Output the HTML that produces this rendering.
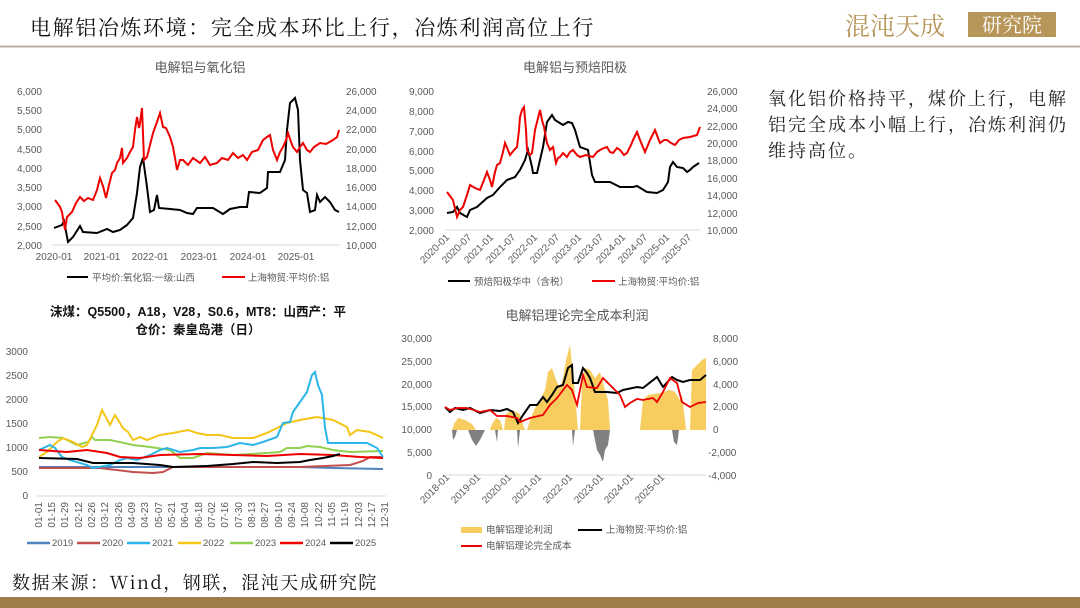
<!DOCTYPE html>
<html><head><meta charset="utf-8"><style>
body{margin:0;background:#fff;}
svg{display:block;font-family:"Liberation Sans","Noto Sans CJK SC",sans-serif;}
.t{fill:#595959;font-size:13px;}
.a{fill:#595959;font-size:10px;}
.l{fill:#595959;font-size:9.5px;}
</style></head><body>
<svg width="1080" height="608" viewBox="0 0 1080 608" xmlns="http://www.w3.org/2000/svg">
<rect width="1080" height="608" fill="#fff"/>
<!-- header -->
<text x="30" y="35" font-size="21" fill="#111" letter-spacing="1.6" font-family="'Noto Serif CJK SC','Noto Sans CJK SC',serif">电解铝冶炼环境：完全成本环比上行，冶炼利润高位上行</text>
<line x1="0" y1="46.5" x2="1080" y2="46.5" stroke="#b8b0a0" stroke-width="2"/>
<text x="845" y="35" font-size="25" fill="#b8965a" font-family="'Noto Serif CJK SC',serif">混沌天成</text>
<rect x="968" y="12" width="88" height="25" fill="#b8965a"/>
<text x="1012" y="32" font-size="20" fill="#fff" text-anchor="middle" font-family="'Noto Serif CJK SC',serif">研究院</text>

<!-- right text -->
<g font-size="18" fill="#222" font-family="'Noto Serif CJK SC','Noto Sans CJK SC',serif" letter-spacing="2">
<text x="768" y="105">氧化铝价格持平，煤价上行，电解</text>
<text x="768" y="131">铝完全成本小幅上行，冶炼利润仍</text>
<text x="768" y="157">维持高位。</text>
</g>

<!-- chart1 -->
<text class="t" x="200" y="72" text-anchor="middle">电解铝与氧化铝</text>
<g class="a" text-anchor="end">
<text x="42" y="95">6,000</text><text x="42" y="114">5,500</text><text x="42" y="133">5,000</text><text x="42" y="153">4,500</text><text x="42" y="172">4,000</text><text x="42" y="191">3,500</text><text x="42" y="210">3,000</text><text x="42" y="230">2,500</text><text x="42" y="249">2,000</text>
</g>
<g class="a">
<text x="346" y="95">26,000</text><text x="346" y="114">24,000</text><text x="346" y="133">22,000</text><text x="346" y="153">20,000</text><text x="346" y="172">18,000</text><text x="346" y="191">16,000</text><text x="346" y="210">14,000</text><text x="346" y="230">12,000</text><text x="346" y="249">10,000</text>
</g>
<line x1="52" y1="245" x2="340" y2="245" stroke="#d9d9d9"/>
<g class="a" text-anchor="middle">
<text x="54" y="260">2020-01</text><text x="102" y="260">2021-01</text><text x="150" y="260">2022-01</text><text x="199" y="260">2023-01</text><text x="248" y="260">2024-01</text><text x="296" y="260">2025-01</text>
</g>
<polyline fill="none" stroke="#000" stroke-width="2" points="54,228 62,225 64,221 68,242 73,237 80,226 83,232 97,233 107,229 113,232 120,230 127,225 133,218 137,193 140,167 143,158 147,187 150,212 154,210 157,195 159,208 170,209 180,210 187,213 193,214 197,208 213,208 223,214 230,209 240,207 247,207 249,192 260,193 267,188 268,172 280,172 285,160 287,130 290,103 295,98 298,110 300,160 303,190 307,193 310,212 315,210 317,195 320,202 325,197 330,202 335,210 339,212"/>
<polyline fill="none" stroke="#e00" stroke-width="2" points="55,200 58,204 60,207 62,212 65,230 67,217 72,212 76,203 80,197 84,201 88,198 93,200 97,190 100,178 103,186 106,198 109,185 112,173 115,170 117,163 120,158 122,148 123,163 127,158 130,152 133,147 135,130 137,117 139,128 140,123 142,108 144,160 147,157 150,145 153,133 157,122 160,113 163,127 166,128 170,137 173,147 175,158 177,170 180,160 183,160 188,165 193,158 200,163 205,157 210,165 217,163 222,158 228,160 233,153 238,158 243,155 247,160 252,152 258,150 263,140 267,137 270,135 273,150 277,160 280,152 283,147 286,140 288,133 291,142 293,147 297,152 300,147 303,143 307,150 310,152 314,147 320,143 326,144 333,140 337,137 339,130"/>
<line x1="67" y1="277" x2="88" y2="277" stroke="#000" stroke-width="2"/>
<text class="l" x="92" y="281">平均价:氧化铝:一级:山西</text>
<line x1="222" y1="277" x2="245" y2="277" stroke="#e00" stroke-width="2"/>
<text class="l" x="248" y="281">上海物贸:平均价:铝</text>

<!-- chart2 -->
<text class="t" x="575" y="72" text-anchor="middle">电解铝与预焙阳极</text>
<g class="a" text-anchor="end">
<text x="434" y="95">9,000</text><text x="434" y="115">8,000</text><text x="434" y="135">7,000</text><text x="434" y="155">6,000</text><text x="434" y="174">5,000</text><text x="434" y="194">4,000</text><text x="434" y="214">3,000</text><text x="434" y="234">2,000</text>
</g>
<g class="a">
<text x="707" y="95">26,000</text><text x="707" y="112">24,000</text><text x="707" y="130">22,000</text><text x="707" y="147">20,000</text><text x="707" y="164">18,000</text><text x="707" y="182">16,000</text><text x="707" y="199">14,000</text><text x="707" y="217">12,000</text><text x="707" y="234">10,000</text>
</g>
<line x1="445" y1="230" x2="700" y2="230" stroke="#d9d9d9"/>
<g class="a" text-anchor="end">
<text transform="translate(450,238) rotate(-45)">2020-01</text>
<text transform="translate(472,238) rotate(-45)">2020-07</text>
<text transform="translate(494,238) rotate(-45)">2021-01</text>
<text transform="translate(516,238) rotate(-45)">2021-07</text>
<text transform="translate(538,238) rotate(-45)">2022-01</text>
<text transform="translate(560,238) rotate(-45)">2022-07</text>
<text transform="translate(582,238) rotate(-45)">2023-01</text>
<text transform="translate(604,238) rotate(-45)">2023-07</text>
<text transform="translate(626,238) rotate(-45)">2024-01</text>
<text transform="translate(648,238) rotate(-45)">2024-07</text>
<text transform="translate(670,238) rotate(-45)">2025-01</text>
<text transform="translate(692,238) rotate(-45)">2025-07</text>
</g>
<polyline fill="none" stroke="#000" stroke-width="2" points="447,213 453,212 457,207 460,213 467,217 470,210 477,207 487,198 493,195 500,187 507,180 515,177 520,170 525,160 528,150 532,167 533,173 537,173 540,160 543,147 547,122 552,115 555,120 563,125 568,122 572,123 575,130 580,147 588,150 592,175 595,182 610,182 620,187 633,187 637,186 647,192 657,193 663,190 668,182 670,167 673,162 677,167 683,168 687,172 690,170 693,167 699,163"/>
<polyline fill="none" stroke="#e00" stroke-width="2" points="447,192 450,196 453,200 457,217 460,210 463,207 467,195 470,185 475,188 480,190 484,180 487,172 490,180 492,187 495,172 497,165 500,163 503,152 505,143 508,150 510,155 514,150 517,147 519,130 520,117 522,110 524,107 526,130 527,150 530,155 532,153 534,138 535,130 538,118 540,110 542,120 544,127 546,138 547,143 550,150 553,147 556,163 558,158 560,157 563,153 567,157 570,152 573,150 577,155 580,157 586,155 593,157 597,152 600,150 604,148 607,147 610,152 613,153 617,148 620,150 624,155 627,153 631,145 633,140 635,136 637,132 640,140 645,152 650,140 655,130 658,138 660,143 664,140 667,140 671,143 675,145 679,140 683,138 690,137 697,135 700,127"/>
<line x1="448" y1="281" x2="470" y2="281" stroke="#000" stroke-width="2"/>
<text class="l" x="474" y="285">预焙阳极华中（含税）</text>
<line x1="592" y1="281" x2="615" y2="281" stroke="#e00" stroke-width="2"/>
<text class="l" x="618" y="285">上海物贸:平均价:铝</text>

<!-- chart3 coal -->
<g font-size="12.5" font-weight="bold" fill="#111" text-anchor="middle">
<text x="198" y="316">沫煤：Q5500，A18，V28，S0.6，MT8：山西产：平</text>
<text x="198" y="334">仓价：秦皇岛港（日）</text>
</g>
<g class="a" font-size="9" text-anchor="end">
<text x="28" y="355">3000</text><text x="28" y="379">2500</text><text x="28" y="403">2000</text><text x="28" y="427">1500</text><text x="28" y="451">1000</text><text x="28" y="475">500</text><text x="28" y="499">0</text>
</g>
<line x1="37" y1="496" x2="386" y2="496" stroke="#d9d9d9"/>
<g class="a" font-size="9" text-anchor="end">
<text transform="translate(42,502) rotate(-90)">01-01</text>
<text transform="translate(55,502) rotate(-90)">01-15</text>
<text transform="translate(68,502) rotate(-90)">01-29</text>
<text transform="translate(82,502) rotate(-90)">02-12</text>
<text transform="translate(95,502) rotate(-90)">02-26</text>
<text transform="translate(108,502) rotate(-90)">03-12</text>
<text transform="translate(122,502) rotate(-90)">03-26</text>
<text transform="translate(135,502) rotate(-90)">04-09</text>
<text transform="translate(148,502) rotate(-90)">04-23</text>
<text transform="translate(162,502) rotate(-90)">05-07</text>
<text transform="translate(175,502) rotate(-90)">05-21</text>
<text transform="translate(188,502) rotate(-90)">06-04</text>
<text transform="translate(202,502) rotate(-90)">06-18</text>
<text transform="translate(215,502) rotate(-90)">07-02</text>
<text transform="translate(228,502) rotate(-90)">07-16</text>
<text transform="translate(242,502) rotate(-90)">07-30</text>
<text transform="translate(255,502) rotate(-90)">08-13</text>
<text transform="translate(268,502) rotate(-90)">08-27</text>
<text transform="translate(282,502) rotate(-90)">09-10</text>
<text transform="translate(295,502) rotate(-90)">09-24</text>
<text transform="translate(308,502) rotate(-90)">10-08</text>
<text transform="translate(322,502) rotate(-90)">10-22</text>
<text transform="translate(335,502) rotate(-90)">11-05</text>
<text transform="translate(348,502) rotate(-90)">11-19</text>
<text transform="translate(362,502) rotate(-90)">12-03</text>
<text transform="translate(375,502) rotate(-90)">12-17</text>
<text transform="translate(388,502) rotate(-90)">12-31</text>
</g>
<g fill="none" stroke-width="2">
<polyline stroke="#4f81bd" points="39,467 200,467 300,467 333,468 383,469"/>
<polyline stroke="#c0504d" points="39,468 100,468 133,472 153,473 163,472 173,467 233,467 300,467 350,465 363,461 370,457 383,457"/>
<polyline stroke="#92d050" points="39,438 50,437 63,438 77,445 88,442 92,437 95,440 110,440 133,445 150,447 170,450 180,458 193,458 207,453 233,455 267,453 280,452 287,448 300,448 307,446 320,447 333,450 350,452 383,451"/>
<polyline stroke="#f5c518" points="39,457 47,452 57,442 63,438 73,442 82,447 87,445 97,425 102,410 110,425 115,415 123,428 128,432 133,440 140,437 147,440 160,435 173,433 188,430 197,433 207,435 220,435 233,438 253,438 267,433 287,423 300,420 317,417 333,420 347,427 350,435 357,430 370,432 383,438"/>
<polyline stroke="#2bb5e8" points="39,450 50,445 55,448 62,457 70,460 87,465 93,468 110,465 120,460 127,458 137,460 150,455 160,450 167,448 180,452 193,450 200,448 213,448 227,447 240,443 253,445 263,442 277,437 283,423 290,422 293,412 300,402 307,392 312,375 315,372 318,385 322,395 325,428 328,443 333,443 367,443 377,448 383,457"/>
<polyline stroke="#e00" points="39,450 67,452 87,450 107,453 120,457 140,458 160,455 200,454 233,455 267,456 300,454 333,455 360,457 383,458"/>
<polyline stroke="#000" points="39,458 77,459 93,463 133,463 160,465 173,467 207,466 233,464 253,462 277,463 300,462 310,460 323,458 333,456 340,454"/>
</g>
<g class="l" font-size="9">
<line x1="27" y1="543" x2="50" y2="543" stroke="#4f81bd" stroke-width="2.5"/><text x="52" y="546">2019</text>
<line x1="77" y1="543" x2="100" y2="543" stroke="#c0504d" stroke-width="2.5"/><text x="102" y="546">2020</text>
<line x1="127" y1="543" x2="150" y2="543" stroke="#2bb5e8" stroke-width="2.5"/><text x="152" y="546">2021</text>
<line x1="178" y1="543" x2="201" y2="543" stroke="#f5c518" stroke-width="2.5"/><text x="203" y="546">2022</text>
<line x1="230" y1="543" x2="253" y2="543" stroke="#92d050" stroke-width="2.5"/><text x="255" y="546">2023</text>
<line x1="280" y1="543" x2="303" y2="543" stroke="#e00" stroke-width="2.5"/><text x="305" y="546">2024</text>
<line x1="330" y1="543" x2="353" y2="543" stroke="#000" stroke-width="2.5"/><text x="355" y="546">2025</text>
</g>

<!-- chart4 -->
<text class="t" x="577" y="320" text-anchor="middle">电解铝理论完全成本利润</text>
<g class="a" text-anchor="end">
<text x="432" y="342">30,000</text><text x="432" y="365">25,000</text><text x="432" y="388">20,000</text><text x="432" y="410">15,000</text><text x="432" y="433">10,000</text><text x="432" y="456">5,000</text><text x="432" y="479">0</text>
</g>
<g class="a">
<text x="713" y="342">8,000</text><text x="713" y="365">6,000</text><text x="713" y="388">4,000</text><text x="713" y="410">2,000</text><text x="713" y="433">0</text><text x="708" y="456">-2,000</text><text x="708" y="479">-4,000</text>
</g>
<polygon fill="#f7cd5f" points="447,430 452,430 454,424 458,418 465,420 472,424 476,430 490,430 492,424 496,418 500,420 503,430 504,430 506,414 512,410 520,414 523,425 525,430 527,430 530,420 535,408 540,400 545,390 548,372 552,368 556,380 560,388 563,378 566,360 570,345 572,365 575,395 578,430 580,430 582,385 585,368 590,370 595,378 600,372 605,390 608,400 610,430 640,430 643,400 648,395 660,393 670,390 675,392 680,400 682,395 685,420 686,430 690,430 692,370 697,365 702,360 706,358 706,430"/>
<g fill="#808080">
<polygon points="452,430 453,440 455,437 457,430"/>
<polygon points="468,430 472,440 476,446 480,440 485,430"/>
<polygon points="495,430 497,442 498,430"/>
<polygon points="517,430 518,448 520,430"/>
<polygon points="572,430 573,446 575,430"/>
<polygon points="593,430 597,450 600,455 603,462 605,450 608,445 610,430"/>
<polygon points="672,430 674,442 677,445 679,430"/>
</g>
<line x1="445" y1="475" x2="706" y2="475" stroke="#d9d9d9"/>
<polyline fill="none" stroke="#000" stroke-width="2" points="445,407 450,412 455,408 463,410 470,408 480,413 490,410 500,411 507,409 513,412 518,423 523,415 530,405 537,405 543,397 547,402 552,395 557,387 563,385 568,368 572,365 573,383 578,383 583,368 587,373 590,378 595,392 607,392 617,393 623,390 637,387 643,388 657,377 663,387 672,377 677,380 683,382 690,380 700,380 706,375"/>
<polyline fill="none" stroke="#e00" stroke-width="1.8" points="445,407 450,410 457,408 467,408 480,412 490,410 497,416 507,416 517,418 520,422 530,418 543,415 550,405 557,398 567,385 572,390 577,405 583,375 587,387 597,388 603,378 610,385 620,395 625,407 630,403 637,399 643,400 653,398 657,402 663,392 670,378 677,383 682,402 690,407 698,403 706,402"/>
<g class="a" text-anchor="end">
<text transform="translate(450,478) rotate(-45)">2018-01</text>
<text transform="translate(481,478) rotate(-45)">2019-01</text>
<text transform="translate(512,478) rotate(-45)">2020-01</text>
<text transform="translate(542,478) rotate(-45)">2021-01</text>
<text transform="translate(573,478) rotate(-45)">2022-01</text>
<text transform="translate(604,478) rotate(-45)">2023-01</text>
<text transform="translate(634,478) rotate(-45)">2024-01</text>
<text transform="translate(665,478) rotate(-45)">2025-01</text>
</g>
<rect x="461" y="527" width="21" height="6" fill="#f7cd5f"/>
<text class="l" x="486" y="533">电解铝理论利润</text>
<line x1="578" y1="530" x2="602" y2="530" stroke="#000" stroke-width="2"/>
<text class="l" x="606" y="533">上海物贸:平均价:铝</text>
<line x1="461" y1="546" x2="482" y2="546" stroke="#e00" stroke-width="2"/>
<text class="l" x="486" y="549">电解铝理论完全成本</text>

<!-- footer -->
<text x="12" y="589" font-size="18" fill="#111" letter-spacing="1.5" font-family="'Noto Serif CJK SC','Noto Sans CJK SC',serif">数据来源：Wind，钢联，混沌天成研究院</text>
<rect x="0" y="597" width="1080" height="11" fill="#a07c4a"/>
</svg>
</body></html>
